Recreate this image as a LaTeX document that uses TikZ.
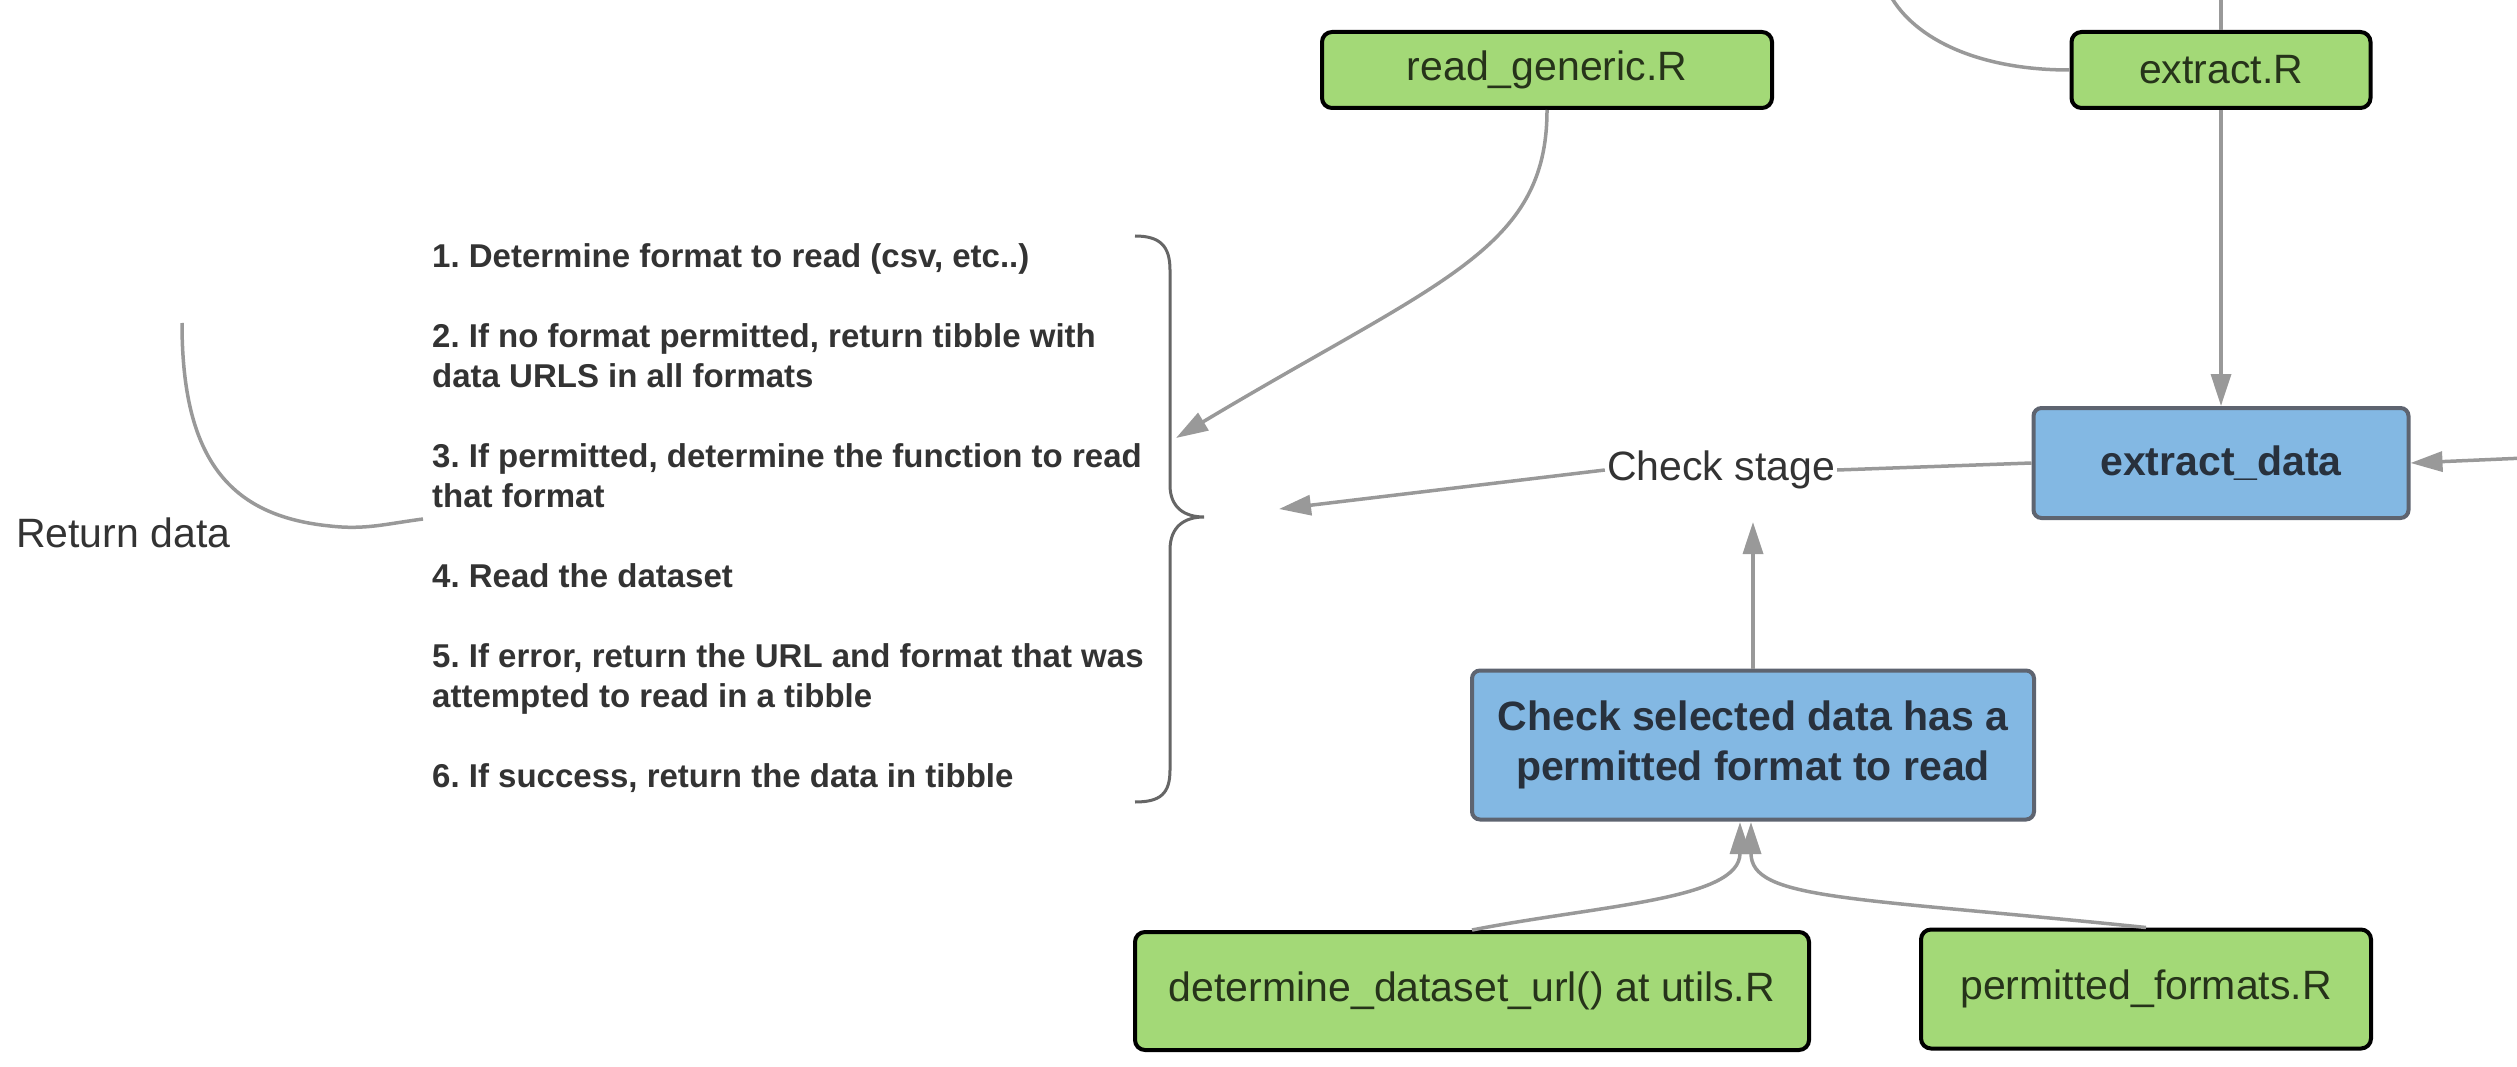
\documentclass[tikz,border=0pt]{standalone}
\usepackage{fontspec}
\setmainfont{Liberation Sans}
\usetikzlibrary{arrows.meta}
\frenchspacing
\definecolor{gfill}{HTML}{A3D977}
\definecolor{bfill}{HTML}{83B8E3}
\definecolor{bdraw}{HTML}{5E6470}
\definecolor{connc}{HTML}{999999}
\definecolor{txtc}{HTML}{333333}
\definecolor{gtxt}{HTML}{26331A}
\definecolor{btxt}{HTML}{28313D}
\definecolor{bracec}{HTML}{666666}
\begin{document}
\begin{tikzpicture}[x=1pt,y=-1pt,
  greenbox/.style={draw=black, line width=4pt, fill=gfill, rounded corners=10pt, inner sep=0pt, text=gtxt, font=\fontsize{41}{50}\selectfont},
  bluebox/.style={draw=bdraw, line width=4pt, fill=bfill, rounded corners=8pt, inner sep=0pt, text=btxt, font=\fontsize{41}{50}\selectfont\bfseries, align=center},
  conn/.style={draw=connc, line width=3.5pt},
  tipend/.style={-{Triangle[length=32pt,width=20pt]}},
  lbl/.style={text=txtc, font=\fontsize{41}{50}\selectfont, inner sep=0pt},
  bracestyle/.style={draw=bracec, line width=3pt}
]
\useasboundingbox (0,0) rectangle (2517,1067);

% nodes
\node[greenbox, minimum width=450pt, minimum height=76pt] (rg) at (1547,70) {read\_generic.R};
\node[greenbox, minimum width=299pt, minimum height=76pt] (ex) at (2221,70) {extract.R};
\node[bluebox, minimum width=375pt, minimum height=110pt] (ed) at (2221,463) {extract\_data};
\node[bluebox, minimum width=562pt, minimum height=149pt] (cs) at (1753,745) {Check selected data has a\\permitted format to read};
\node[greenbox, minimum width=674pt, minimum height=118pt] (du) at (1472,991) {determine\_dataset\_url() at utils.R};
\node[greenbox, minimum width=450pt, minimum height=119pt] (pf) at (2146,989) {permitted\_formats.R};

\node[lbl, fill=white, inner sep=2pt] (ck) at (1721,470) {Check stage};
\node[lbl, anchor=west] (rd) at (16,533) {Return data};

\node[anchor=west, inner sep=0pt, align=left, text=txtc, font=\fontsize{33}{40}\selectfont\bfseries] (steps) at (432,518)
 {1. Determine format to read (csv, etc..)\\[40pt]
  2. If no format permitted, return tibble with\\
  data URLS in all formats\\[40pt]
  3. If permitted, determine the function to read\\
  that format\\[40pt]
  4. Read the dataset\\[40pt]
  5. If error, return the URL and format that was\\
  attempted to read in a tibble\\[40pt]
  6. If success, return the data in tibble};

% free-end coordinates
\coordinate (topin) at (2221,-5);
\coordinate (curvein) at (1890,-5);
\coordinate (rin) at (2525,458);
\coordinate (bhit) at (1176,438);
\coordinate (cstip) at (1279,509);
\coordinate (ckin) at (1753,522);
\coordinate (m1) at (1740,822);
\coordinate (m2) at (1751,822);
\coordinate (rdA) at (423,519);
\coordinate (rdB) at (182,323);

% brace
\draw[bracestyle] (1135,236) .. controls (1160,236) and (1170,246) .. (1170,270) -- (1170,485)
  .. controls (1170,508) and (1185,517) .. (1204,517)
  .. controls (1185,517) and (1170,526) .. (1170,550) -- (1170,770)
  .. controls (1170,794) and (1160,802) .. (1135,802);

% connectors
\draw[conn] (topin) -- (ex.north);
\draw[conn] (curvein) .. controls (1915,40) and (1980,70) .. (ex.west);
\draw[conn,tipend] (ex.south) -- (ed.north);
\draw[conn,tipend] (rin) -- (ed.east);
\draw[conn] (ed.west) -- (ck.east);
\draw[conn,tipend] (ck.west) -- (cstip);
\draw[conn,tipend] (cs.north) -- (ckin);
\draw[conn,tipend] (du.north) .. controls (1600,905) and (1740,900) .. (m1);
\draw[conn,tipend] (pf.north) .. controls (1850,897) and (1751,900) .. (m2);
\draw[conn,tipend] (rg.south) .. controls (1547,250) and (1440,280) .. (bhit);
\draw[conn] (rdA) .. controls (385,524) and (365,530) .. (330,526)
  .. controls (230,516) and (182,460) .. (rdB);
\end{tikzpicture}
\end{document}
